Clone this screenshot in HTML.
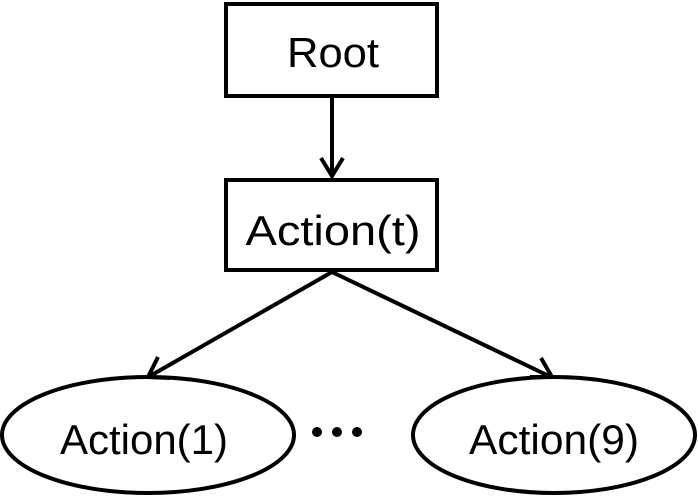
<!DOCTYPE html>
<html><head><style>html,body{margin:0;padding:0;background:#fff}</style></head>
<body>
<svg width="698" height="498" viewBox="0 0 698 498" xmlns="http://www.w3.org/2000/svg" font-family="'Liberation Sans', sans-serif" font-size="42">
<g fill="none" stroke="#000" stroke-width="4">
<rect x="226" y="4" width="211" height="92"/>
<rect x="226" y="180" width="211" height="90"/>
<ellipse cx="148" cy="435" rx="146" ry="58"/>
<ellipse cx="554" cy="435" rx="141" ry="58"/>
<line x1="332" y1="96" x2="332" y2="176"/>
<polyline points="321,158 332,176 343,158"/>
<line x1="332" y1="272" x2="150" y2="376"/>
<polyline points="158,357 148,377 170,378"/>
<line x1="332" y1="272" x2="551" y2="377"/>
<polyline points="530,377 552,377 541,358"/>
</g>
<text x="333" y="67" text-anchor="middle" textLength="92" lengthAdjust="spacingAndGlyphs">Root</text>
<text x="333" y="245" text-anchor="middle" textLength="175" lengthAdjust="spacingAndGlyphs">Action(t)</text>
<text x="144" y="454" text-anchor="middle" textLength="168" lengthAdjust="spacingAndGlyphs">Action(1)</text>
<text x="554" y="454" text-anchor="middle" textLength="170" lengthAdjust="spacingAndGlyphs">Action(9)</text>
<circle cx="317" cy="432" r="5"/>
<circle cx="337" cy="432" r="5"/>
<circle cx="357" cy="432" r="5"/>
</svg>
</body></html>
